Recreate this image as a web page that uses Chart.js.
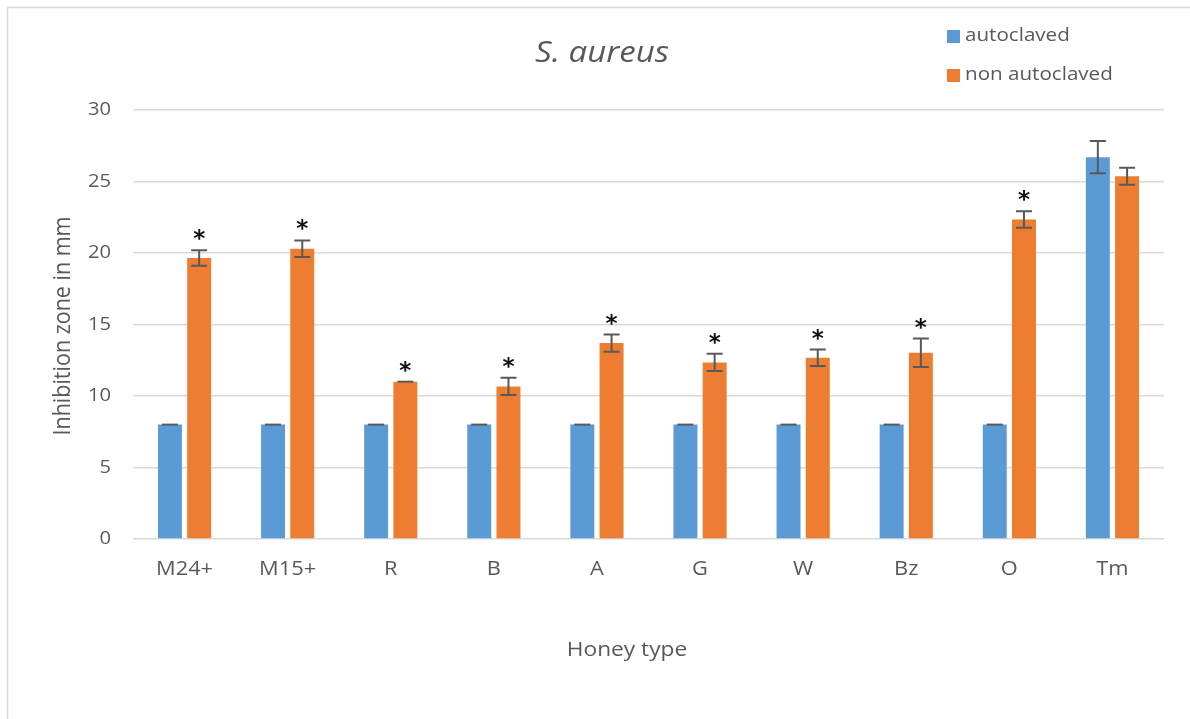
<!DOCTYPE html>
<html>
<head>
<meta charset="utf-8">
<script src="https://cdn.jsdelivr.net/npm/chart.js@4.4.1/dist/chart.umd.min.js"></script>
<style>
  html, body { margin: 0; padding: 0; background: #ffffff; }
  #wrap { width: 1190px; height: 719px; position: relative; }
</style>
</head>
<body>
<div id="wrap"><canvas id="c" width="1190" height="719"></canvas></div>
<script>
const categories = ["M24+", "M15+", "R", "B", "A", "G", "W", "Bz", "O", "Tm"];
const autoclaved = [8, 8, 8, 8, 8, 8, 8, 8, 8, 26.7];
const autoclavedErr = [0, 0, 0, 0, 0, 0, 0, 0, 0, 1.13];
const nonAutoclaved = [19.65, 20.3, 11.0, 10.67, 13.7, 12.35, 12.67, 13.02, 22.34, 25.37];
const nonAutoclavedErr = [0.55, 0.58, 0, 0.6, 0.6, 0.6, 0.58, 1.0, 0.58, 0.6];
const significant = [true, true, true, true, true, true, true, true, true, false];
const yTicks = [0, 5, 10, 15, 20, 25, 30];

const FONT = "'Open Sans', 'Noto Sans', sans-serif";
const GREY = "#595959";
const BLUE = "#5b9bd5";
const ORANGE = "#ed7d31";
const SX = 1.12;

const errors = [autoclavedErr, nonAutoclavedErr];

function wideText(ctx, text, x, y, font, align, sx) {
  ctx.save();
  ctx.font = font;
  ctx.textAlign = align;
  ctx.textBaseline = 'middle';
  ctx.translate(x, y);
  ctx.scale(sx, 1);
  ctx.fillText(text, 0, 0);
  ctx.restore();
}

const decorPlugin = {
  id: 'decor',
  beforeDraw(chart) {
    const ctx = chart.ctx;
    ctx.save();
    ctx.strokeStyle = '#d9d9d9';
    ctx.lineWidth = 1.5;
    ctx.strokeRect(7.5, 7.5, 1200, 730);
    ctx.restore();
  },
  afterDatasetsDraw(chart) {
    const ctx = chart.ctx;
    const y = chart.scales.y;
    ctx.save();
    ctx.strokeStyle = '#595959';
    ctx.lineWidth = 2;
    chart.data.datasets.forEach((ds, di) => {
      const meta = chart.getDatasetMeta(di);
      meta.data.forEach((bar, i) => {
        const v = ds.data[i];
        const e = errors[di][i];
        const x = bar.x;
        const yt = y.getPixelForValue(v + e);
        const yb = y.getPixelForValue(v - e);
        const cap = 8;
        ctx.beginPath();
        if (e > 0) {
          ctx.moveTo(x, yt); ctx.lineTo(x, yb);
          ctx.moveTo(x - cap, yb); ctx.lineTo(x + cap, yb);
        }
        ctx.moveTo(x - cap, yt); ctx.lineTo(x + cap, yt);
        ctx.stroke();
        if (di === 1 && significant[i]) {
          ctx.fillStyle = '#111111';
          ctx.font = "bold 23px 'DejaVu Sans', sans-serif";
          ctx.textAlign = 'center';
          ctx.textBaseline = 'alphabetic';
          ctx.fillText('*', x, yt - 4);
        }
      });
    });
    ctx.restore();
  },
  afterDraw(chart) {
    const ctx = chart.ctx;
    const xs = chart.scales.x;
    const ys = chart.scales.y;
    ctx.save();
    ctx.fillStyle = GREY;
    // Tick labels
    yTicks.forEach(v => {
      wideText(ctx, String(v), 111, ys.getPixelForValue(v), "18px " + FONT, 'right', SX);
    });
    categories.forEach((c, i) => {
      wideText(ctx, c, xs.getPixelForValue(i), 569, "19.5px " + FONT, 'center', SX);
    });
    // Title
    wideText(ctx, 'S. aureus', 602, 54, "italic 29.5px " + FONT, 'center', SX);
    // Axis titles
    wideText(ctx, 'Honey type', 627, 650, "20.3px " + FONT, 'center', SX);
    ctx.save();
    ctx.translate(63, 326);
    ctx.rotate(-Math.PI / 2);
    ctx.scale(1, SX);
    ctx.font = "21.5px " + FONT;
    ctx.textAlign = 'center';
    ctx.textBaseline = 'middle';
    ctx.fillText('Inhibition zone in mm', 0, 0);
    ctx.restore();
    // Legend
    const items = [[chart.data.datasets[0].label, BLUE, 36], [chart.data.datasets[1].label, ORANGE, 75]];
    items.forEach(([label, col, cy]) => {
      ctx.fillStyle = col;
      ctx.fillRect(947, cy - 6, 13, 13);
      ctx.fillStyle = GREY;
      wideText(ctx, label, 965, cy, "18.4px " + FONT, 'left', SX);
    });
    ctx.restore();
  }
};

new Chart(document.getElementById('c'), {
  type: 'bar',
  data: {
    labels: categories,
    datasets: [
      { label: 'autoclaved', data: autoclaved, backgroundColor: BLUE, categoryPercentage: 0.567, barPercentage: 0.82 },
      { label: 'non autoclaved', data: nonAutoclaved, backgroundColor: ORANGE, categoryPercentage: 0.567, barPercentage: 0.82 }
    ]
  },
  options: {
    responsive: false,
    animation: false,
    devicePixelRatio: 1,
    layout: { padding: { top: 110, right: 26, left: 0, bottom: 0 } },
    plugins: { legend: { display: false }, title: { display: false }, tooltip: { enabled: false } },
    scales: {
      x: {
        grid: { display: false },
        border: { display: false },
        ticks: { display: false },
        afterFit(scale) { scale.height = 180; }
      },
      y: {
        min: 0, max: 30,
        afterBuildTicks(scale) { scale.ticks = yTicks.map(v => ({ value: v })); },
        grid: { color: '#d9d9d9', lineWidth: 1.5, drawTicks: false },
        border: { display: false },
        ticks: { display: false },
        afterFit(scale) { scale.width = 133; }
      }
    }
  },
  plugins: [decorPlugin]
});
</script>
</body>
</html>
